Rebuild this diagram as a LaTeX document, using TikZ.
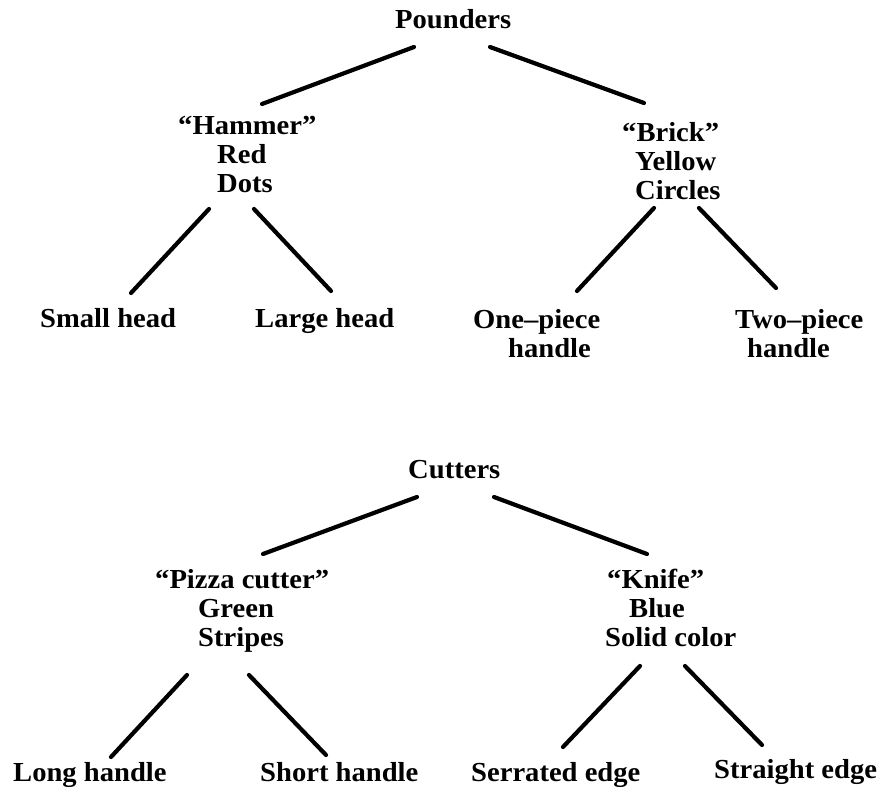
\documentclass[tikz,border=0pt]{standalone}
\usepackage{fontspec}
\usetikzlibrary{calc}
\newfontfamily\treefont{Liberation Serif}[FakeStretch=1.04]
\begin{document}
\begin{tikzpicture}[x=1pt,y=-1pt]
\tikzset{
  lbl/.style={font=\treefont\bfseries\fontsize{27.5}{29}\selectfont,
              inner sep=0pt, anchor=base west},
  branch/.style={line width=4.2pt, line cap=round},
}
\useasboundingbox (0,0) rectangle (881,794);

% ---------- Pounders ----------
\node[lbl] (pounders) at (395,29) {Pounders};
\node[lbl] (hammer) at (178,135) {\begin{tabular}[t]{@{}l@{}}“Hammer”\\\hspace*{39pt}Red\\\hspace*{39pt}Dots\end{tabular}};
\node[lbl] (brick) at (622,142) {\begin{tabular}[t]{@{}l@{}}“Brick”\\\hspace*{13pt}Yellow\\\hspace*{13pt}Circles\end{tabular}};
\node[lbl] (small) at (40,327) {Small head};
\node[lbl] (large) at (255,327) {Large head};
\node[lbl] (onep) at (473,329) {\begin{tabular}[t]{@{}l@{}}One–piece\\\hspace*{35pt}handle\end{tabular}};
\node[lbl] (twop) at (735,329) {\begin{tabular}[t]{@{}l@{}}Two–piece\\\hspace*{12pt}handle\end{tabular}};

\draw[branch] ($(pounders.base west)+(19,18)$) -- ($(hammer.base west)+(84,-31)$);
\draw[branch] ($(pounders.base west)+(95,18)$) -- ($(brick.base west)+(22,-39)$);
\draw[branch] ($(hammer.base west)+(31,74)$) -- ($(small.base west)+(91,-34)$);
\draw[branch] ($(hammer.base west)+(76,74)$) -- ($(large.base west)+(76,-36)$);
\draw[branch] ($(brick.base west)+(32,66)$) -- ($(onep.base west)+(104,-38)$);
\draw[branch] ($(brick.base west)+(77,66)$) -- ($(twop.base west)+(41,-41)$);

% ---------- Cutters ----------
\node[lbl] (cutters) at (408,478) {Cutters};
\node[lbl] (pizza) at (155,588) {\begin{tabular}[t]{@{}l@{}}“Pizza cutter”\\\hspace*{43pt}Green\\\hspace*{43pt}Stripes\end{tabular}};
\node[lbl] (knife) at (605,588) {\begin{tabular}[t]{@{}l@{}}\hspace*{2pt}“Knife”\\\hspace*{24pt}Blue\\Solid color\end{tabular}};
\node[lbl] (long) at (13,781) {Long handle};
\node[lbl] (short) at (260,781) {Short handle};
\node[lbl] (serrated) at (471,781) {Serrated edge};
\node[lbl] (straight) at (714,778) {Straight edge};

\draw[branch] ($(cutters.base west)+(9,19)$) -- ($(pizza.base west)+(108,-34)$);
\draw[branch] ($(cutters.base west)+(86,19)$) -- ($(knife.base west)+(42,-34)$);
\draw[branch] ($(pizza.base west)+(32,87)$) -- ($(long.base west)+(98,-24)$);
\draw[branch] ($(pizza.base west)+(94,87)$) -- ($(short.base west)+(66,-26)$);
\draw[branch] ($(knife.base west)+(35,78)$) -- ($(serrated.base west)+(92,-34)$);
\draw[branch] ($(knife.base west)+(80,78)$) -- ($(straight.base west)+(48,-33)$);
\end{tikzpicture}
\end{document}
